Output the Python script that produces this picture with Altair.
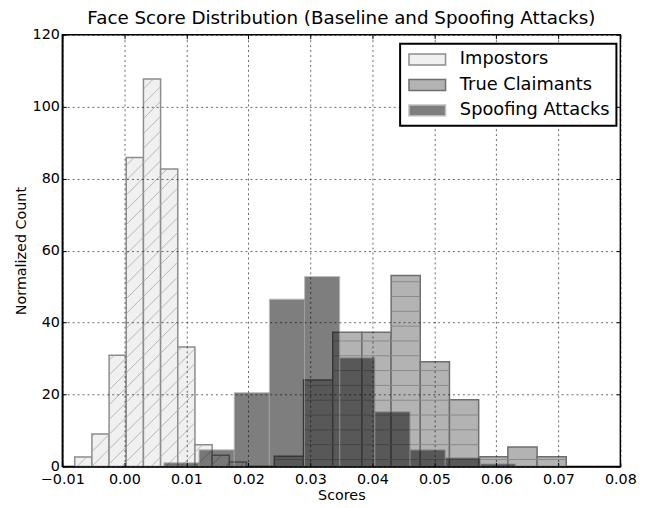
import math
import altair as alt
import pandas as pd

# ---------------- data ----------------
series_names = ["Impostors", "True Claimants", "Spoofing Attacks"]

imp_edges = [-0.0080, -0.00523, -0.00246, 0.00031, 0.00308, 0.00585,
             0.00862, 0.01139, 0.01416, 0.01693, 0.0197]
imp_counts = [2.6, 9.0, 30.9, 85.9, 107.7, 82.7, 33.2, 6.0, 3.1, 1.2]

tc_edges = [0.02419, 0.0289, 0.03361, 0.03832, 0.04303, 0.04773,
            0.05244, 0.05715, 0.06186, 0.06657, 0.07128]
tc_counts = [2.8, 24.0, 37.3, 37.3, 53.1, 29.1, 18.5, 2.7, 5.4, 2.7]

sp_edges = [0.00638, 0.01205, 0.01772, 0.02339, 0.02907, 0.03474,
            0.04041, 0.04608, 0.05176, 0.05743, 0.0631]
sp_counts = [1.0, 4.6, 20.5, 46.5, 52.8, 30.2, 15.2, 4.6, 2.4, 0.7]

x_ticks = [-0.01, 0.0, 0.01, 0.02, 0.03, 0.04, 0.05, 0.06, 0.07, 0.08]
y_ticks = [0, 20, 40, 60, 80, 100, 120]

title_text = "Face Score Distribution (Baseline and Spoofing Attacks)"
x_title = "Scores"
y_title = "Normalized Count"

# ---------------- layout / style constants ----------------
W, H = 565, 437
XMIN, XMAX, YMAX = -0.01, 0.08, 120
FONT = "DejaVu Sans"
HATCH = 15  # px spacing of hatch lines

# ---------------- tables built from the arrays ----------------
rows = []
for name, edges, counts in [(series_names[0], imp_edges, imp_counts),
                            (series_names[1], tc_edges, tc_counts),
                            (series_names[2], sp_edges, sp_counts)]:
    for a, b, c in zip(edges[:-1], edges[1:], counts):
        rows.append({"series": name, "x0": a, "x1": b, "count": c, "base": 0})
bars = pd.DataFrame(rows)

sx = W / (XMAX - XMIN)
sy = H / YMAX

# diagonal '/' hatch for impostor bars (clipped to each bar)
diag = []
for a, b, c in zip(imp_edges[:-1], imp_edges[1:], imp_counts):
    Xa, Xb, Hp = (a - XMIN) * sx, (b - XMIN) * sx, c * sy
    k0 = math.ceil(-Xb / HATCH)
    k1 = math.floor((Hp - Xa) / HATCH)
    for k in range(k0, k1 + 1):
        off = k * HATCH
        X1 = max(Xa, -off)
        X2 = min(Xb, Hp - off)
        if X2 - X1 > 0.5:
            diag.append({"hx": XMIN + X1 / sx, "hy": (X1 + off) / sy,
                         "hx2": XMIN + X2 / sx, "hy2": (X2 + off) / sy})
diag = pd.DataFrame(diag)

# horizontal '-' hatch for true-claimant bars
horiz = []
for a, b, c in zip(tc_edges[:-1], tc_edges[1:], tc_counts):
    yp = 7.0
    while yp < c * sy - 1:
        horiz.append({"hx": a, "hx2": b, "hy": yp / sy})
        yp += HATCH
horiz = pd.DataFrame(horiz)

# ---------------- scales, legend, axes ----------------
xscale = alt.Scale(domain=[XMIN, XMAX], nice=False, zero=False)
yscale = alt.Scale(domain=[0, YMAX], nice=False)

sym_path = "M-2.056,-0.611H2.056V0.611H-2.056Z"
legend = alt.Legend(title=None, orient="none", legendX=342, legendY=9,
                    symbolType=sym_path, symbolSize=324, symbolOffset=11.5,
                    labelOffset=23, labelFontSize=18, labelFont=FONT,
                    labelColor="black", rowPadding=6.8, padding=6,
                    strokeColor="black", fillColor="white",
                    symbolStrokeWidth=1.5, zindex=2)

color_enc = alt.Color("series:N", scale=alt.Scale(
    domain=series_names, range=["#f0f0f0", "#b3b3b3", "#000000"]), legend=legend)
opac_enc = alt.Opacity("series:N", scale=alt.Scale(
    type="ordinal", domain=series_names, range=[1, 1, 0.5]), legend=legend)
stroke_enc = alt.Stroke("series:N", scale=alt.Scale(
    domain=series_names, range=["#8c8c8c", "#6e6e6e", "#808080"]), legend=legend)

grid_common = dict(grid=True, gridColor="black", gridOpacity=0.6,
                   gridDash=[2, 3], gridWidth=1)

x_main = alt.Axis(orient="bottom", values=x_ticks, format=".2f", title=x_title,
                  labelFlush=False, ticks=False, domain=True, domainColor="black",
                  domainWidth=1.5, labelPadding=6, titlePadding=3,
                  labelFont=FONT, labelFontSize=14.5, labelColor="black",
                  titleFont=FONT, titleFontSize=14.5, titleFontWeight="normal",
                  titleColor="black", zindex=1, **grid_common)
y_main = alt.Axis(orient="left", values=y_ticks, format="d", title=y_title,
                  ticks=False, domain=True, domainColor="black", domainWidth=1.5,
                  labelPadding=3, titlePadding=4, labelFont=FONT,
                  labelFontSize=14.5, labelColor="black", titleFont=FONT,
                  titleFontSize=14.5, titleFontWeight="normal",
                  titleColor="black", zindex=1, **grid_common)


def tick_axis(orient, vals):
    return alt.Axis(orient=orient, values=vals, labels=False, domain=False,
                    grid=False, ticks=True, tickSize=4, offset=-4,
                    minExtent=0, maxExtent=0,
                    tickColor="black", tickWidth=1, title=None, zindex=1)


def bar_layer(name, xaxis=None, yaxis=None, sw=1.5):
    return alt.Chart(bars).transform_filter(
        alt.datum.series == name
    ).mark_bar(strokeWidth=sw).encode(
        x=alt.X("x0:Q", scale=xscale, axis=xaxis),
        x2="x1:Q",
        y=alt.Y("count:Q", scale=yscale, axis=yaxis),
        y2="base:Q",
        color=color_enc, opacity=opac_enc, stroke=stroke_enc,
    )


imp_bars = bar_layer(series_names[0], x_main, y_main)
imp_hatch = alt.Chart(diag).mark_rule(color="#a8a8a8", strokeWidth=0.8).encode(
    x=alt.X("hx:Q", scale=xscale, axis=tick_axis("bottom", x_ticks)),
    y=alt.Y("hy:Q", scale=yscale, axis=tick_axis("left", y_ticks)),
    x2="hx2:Q", y2="hy2:Q",
)
tc_bars = bar_layer(series_names[1], tick_axis("top", x_ticks),
                    tick_axis("right", y_ticks))
tc_hatch = alt.Chart(horiz).mark_rule(color="#8a8a8a", strokeWidth=1).encode(
    x=alt.X("hx:Q", scale=xscale, axis=None),
    x2="hx2:Q",
    y=alt.Y("hy:Q", scale=yscale, axis=None),
)
sp_bars = bar_layer(series_names[2], None, None, sw=1.0)

chart = alt.layer(imp_bars, imp_hatch, tc_bars, tc_hatch, sp_bars).resolve_axis(
    x="independent", y="independent"
).properties(
    width=W, height=H,
    title=alt.TitleParams(title_text, font=FONT, fontSize=18.5,
                          fontWeight="normal", color="black", anchor="middle",
                          offset=4, dy=5),
    autosize=alt.AutoSizeParams(type="none"),
    padding={"left": 55, "top": 24, "right": 29, "bottom": 39},
).configure(font=FONT).configure_view(
    stroke="black", strokeWidth=1.5
).configure_legend(strokeWidth=2)

chart.save("out.html", embed_options={"renderer": "svg", "actions": False})
